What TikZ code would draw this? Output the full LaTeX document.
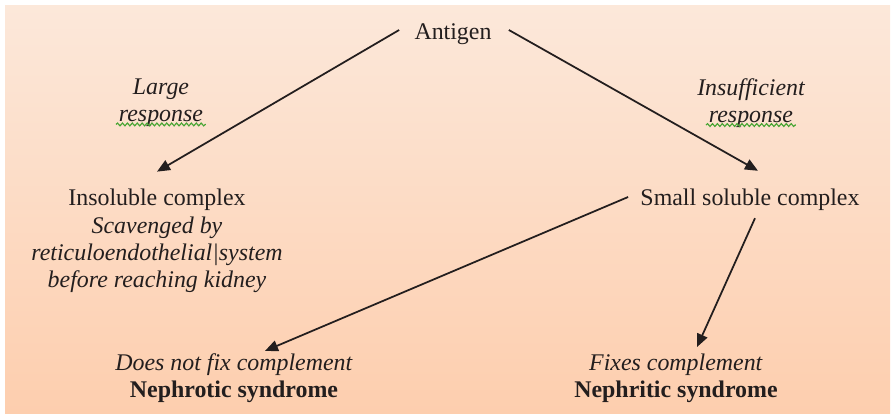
\documentclass[tikz,border=0pt]{standalone}
\usepackage{fontspec}
\setmainfont{Liberation Serif}[
    ItalicFont={Liberation Serif Italic},
    BoldFont={Liberation Serif Bold}]
\usepackage{tikz}
\usetikzlibrary{arrows.meta, positioning, calc, decorations.pathmorphing}
\definecolor{peachtop}{RGB}{252, 232, 218}
\definecolor{peachbot}{RGB}{253, 206, 174}
\definecolor{spellgreen}{RGB}{70, 165, 50}
\definecolor{inkgray}{RGB}{35, 30, 30}

\begin{document}
\begin{tikzpicture}[
      x=0.02cm, y=-0.02cm,
      txt/.style={align=center, inner sep=4pt, text=inkgray,
                  font=\fontsize{13.6}{15.6}\selectfont},
      arr/.style={line width=1pt, color=inkgray,
                  -{Triangle[length=0.26cm, width=0.22cm]}},
      squig/.style={spellgreen, line width=0.65pt, decorate,
                    decoration={snake, amplitude=0.8pt,
                    segment length=2.8pt}},
  ]
  \useasboundingbox (0,0) rectangle (894,416);
  \shade[top color=peachtop, bottom color=peachbot]
      (5,5) rectangle (890,413);
  \node[txt] (antigen) at (453,34) {Antigen};
  \node[txt, font=\fontsize{13.6}{15.6}\selectfont\itshape]
      (large) at (161,103) {Large\\response};
  \node[txt, font=\fontsize{13.6}{15.6}\selectfont\itshape]
      (insuff) at (751,103) {Insufficient\\response};
  \node[txt] (insol) at (157,241)
      {Insoluble complex\\
       \textit{Scavenged by}\\
       \textit{reticuloendothelial|system}\\
       \textit{before reaching kidney}};
  \node[txt] (small) at (750,200) {Small soluble complex};
  \node[txt] (nephrotic) at (234,378)
      {\textit{Does not fix complement}\\
       \textbf{Nephrotic syndrome}};
  \node[txt] (nephritic) at (676,378)
      {\textit{Fixes complement}\\
       \textbf{Nephritic syndrome}};
  \draw[squig] ([xshift=-0.9cm, yshift=0.2cm]large.south)
      -- ([xshift=0.9cm, yshift=0.2cm]large.south);
  \draw[squig] ([xshift=-0.9cm, yshift=0.2cm]insuff.south)
      -- ([xshift=0.9cm, yshift=0.2cm]insuff.south);
  \draw[arr] ([xshift=-0.16cm, yshift=0.08cm]antigen.west)
      -- ([yshift=0.2cm]insol.north);
  \draw[arr] ([xshift=0.2cm, yshift=0.08cm]antigen.east)
      -- ([xshift=0.16cm, yshift=0.22cm]small.north);
  \draw[arr] ([xshift=-0.1cm, yshift=0.06cm]small.west)
      -- ([xshift=0.62cm, yshift=-0.1cm]nephrotic.north);
  \draw[arr] ([xshift=0.1cm]small.south)
      -- ([xshift=0.42cm, yshift=-0.02cm]nephritic.north);
\end{tikzpicture}
\end{document}
